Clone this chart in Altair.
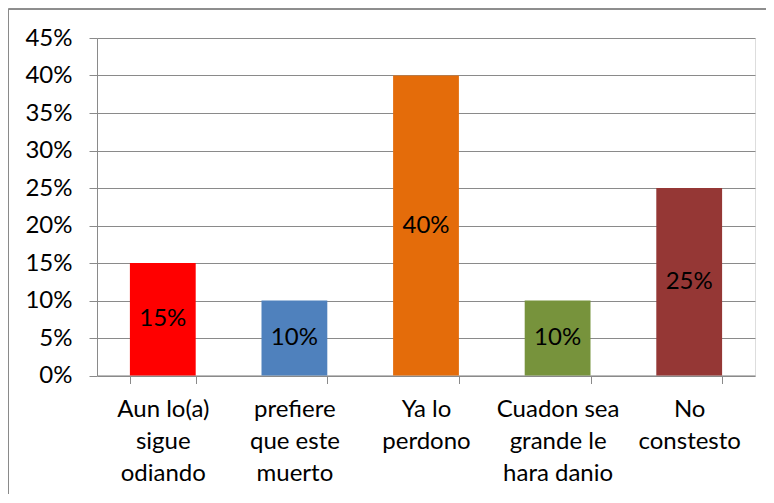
import altair as alt
import pandas as pd

categories = [
    "Aun lo(a)|sigue|odiando",
    "prefiere|que este|muerto",
    "Ya lo|perdono",
    "Cuadon sea|grande le|hara danio",
    "No|constesto",
]
values = [0.15, 0.10, 0.40, 0.10, 0.25]
colors = ["#FF0000", "#4F81BD", "#E46C0A", "#77933C", "#953735"]
y_ticks = [0, 0.05, 0.10, 0.15, 0.20, 0.25, 0.30, 0.35, 0.40, 0.45]

df = pd.DataFrame({"cat": categories, "value": values, "color": colors})

FONT = "Lato"
GRID = "#8a8a8a"

x_axis = alt.Axis(
    labelExpr="split(datum.label, '|')",
    labelAngle=0,
    labelFont=FONT,
    labelFontSize=24,
    labelColor="#000000",
    labelLineHeight=32,
    labelPadding=14,
    labelBaseline="top",
    tickBand="extent",
    tickSize=8,
    tickColor=GRID,
    domainColor=GRID,
    grid=False,
)
x_scale = alt.Scale(paddingInner=0.5, paddingOuter=0.25)

y_axis = alt.Axis(
    values=y_ticks,
    format=".0%",
    labelOverlap=False,
    labelFont=FONT,
    labelFontSize=24,
    labelColor="#000000",
    labelPadding=17,
    tickSize=8,
    tickColor=GRID,
    domainColor=GRID,
    gridColor=GRID,
    gridWidth=1,
)
y_scale = alt.Scale(domain=[0, 0.45], nice=False)

bars = alt.Chart(df).mark_bar().encode(
    x=alt.X("cat:N", sort=categories, title=None, scale=x_scale, axis=x_axis),
    y=alt.Y("value:Q", title=None, scale=y_scale, axis=y_axis),
    color=alt.Color("color:N", scale=None, legend=None),
)

labels = alt.Chart(df).transform_calculate(mid="datum.value / 2").mark_text(
    font=FONT, fontSize=24, color="#000000", baseline="middle", align="center"
).encode(
    x=alt.X("cat:N", sort=categories, title=None, scale=x_scale, axis=x_axis),
    y=alt.Y("mid:Q", title=None, scale=y_scale, axis=y_axis),
    text=alt.Text("value:Q", format=".0%"),
)

border = alt.Chart(df).mark_rect(
    fill=None, fillOpacity=0, stroke="#8a8a8a", strokeWidth=1, clip=False
).encode(
    x=alt.value(-88.5), x2=alt.value(720),
    y=alt.value(-29.0), y2=alt.value(480),
)

chart = alt.layer(bars, labels, border).properties(
    width=658,
    height=337.5,
    autosize=alt.AutoSizeParams(type="none"),
    padding={"left": 89, "top": 30, "right": 11, "bottom": 118},
).configure_view(stroke=None).configure(background="#ffffff")

chart.save("out.html", embed_options={"renderer": "svg", "actions": False})
